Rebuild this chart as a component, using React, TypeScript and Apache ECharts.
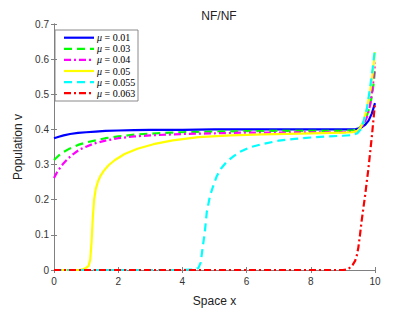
import React, { useEffect, useRef } from 'react';
import * as echarts from 'echarts';

const muValues = ['0.01', '0.03', '0.04', '0.05', '0.055', '0.063'];
const seriesNames = muValues.map((m) => 'μ = ' + m);
const seriesColors = ['#0000ff', '#00ff00', '#ff00ff', '#ffff00', '#00ffff', '#ff0000'];

const blueX = [0, 0.15, 0.3, 0.5, 0.75, 1, 1.3, 1.6, 2, 2.5, 3, 4, 5, 6, 8, 9.2, 9.4, 9.5, 9.6, 9.7, 9.8, 9.9, 10];
const blueY = [0.375, 0.379, 0.383, 0.387, 0.39, 0.392, 0.394, 0.396, 0.397, 0.398, 0.399, 0.399, 0.4, 0.4, 0.4, 0.4, 0.401, 0.403, 0.407, 0.414, 0.425, 0.445, 0.475];

const greenX = [0, 0.15, 0.3, 0.5, 0.75, 1, 1.3, 1.6, 2, 2.6, 3.2, 4, 5, 6, 7, 8, 9, 9.3, 9.45, 9.55, 9.65, 9.75, 9.85, 9.93, 10];
const greenY = [0.313, 0.326, 0.336, 0.346, 0.356, 0.363, 0.369, 0.375, 0.38, 0.386, 0.389, 0.392, 0.394, 0.395, 0.396, 0.396, 0.396, 0.397, 0.4, 0.407, 0.42, 0.44, 0.47, 0.51, 0.565];

const magentaX = [0, 0.1, 0.2, 0.3, 0.45, 0.6, 0.8, 1, 1.25, 1.6, 2, 2.5, 3, 4, 5, 6, 7, 8, 9, 9.3, 9.45, 9.55, 9.65, 9.75, 9.85, 9.93, 10];
const magentaY = [0.262, 0.279, 0.292, 0.304, 0.318, 0.33, 0.343, 0.351, 0.36, 0.368, 0.375, 0.38, 0.383, 0.387, 0.389, 0.391, 0.391, 0.392, 0.392, 0.393, 0.396, 0.403, 0.415, 0.435, 0.47, 0.52, 0.59];

const yellowX = [0, 0.8, 0.9, 1.0, 1.08, 1.13, 1.17, 1.21, 1.25, 1.3, 1.37, 1.45, 1.55, 1.7, 1.9, 2.2, 2.6, 3.1, 3.7, 4.5, 5.5, 6.5, 8, 9, 9.3, 9.45, 9.55, 9.65, 9.75, 9.85, 9.93, 10];
const yellowY = [0, 0, 0.002, 0.006, 0.012, 0.03, 0.08, 0.15, 0.2, 0.23, 0.252, 0.268, 0.282, 0.298, 0.313, 0.33, 0.345, 0.358, 0.369, 0.378, 0.383, 0.386, 0.389, 0.391, 0.392, 0.396, 0.405, 0.425, 0.46, 0.51, 0.56, 0.62];

const cyanX = [0, 4.0, 4.4, 4.5, 4.57, 4.63, 4.7, 4.76, 4.86, 4.96, 5.07, 5.2, 5.38, 5.6, 5.79, 6.1, 6.52, 7, 7.5, 8, 8.5, 9, 9.3, 9.45, 9.55, 9.65, 9.75, 9.85, 9.93, 10];
const cyanY = [0, 0, 0.002, 0.006, 0.021, 0.063, 0.109, 0.165, 0.211, 0.239, 0.267, 0.288, 0.308, 0.324, 0.336, 0.349, 0.359, 0.368, 0.373, 0.377, 0.38, 0.382, 0.384, 0.389, 0.4, 0.425, 0.46, 0.52, 0.575, 0.63];

const redX = [0, 9.0, 9.15, 9.22, 9.3, 9.38, 9.43, 9.48, 9.53, 9.58, 9.69, 9.79, 9.9, 10];
const redY = [0, 0, 0.002, 0.007, 0.014, 0.026, 0.04, 0.063, 0.098, 0.137, 0.211, 0.285, 0.378, 0.475];

const xList = [blueX, greenX, magentaX, yellowX, cyanX, redX];
const yList = [blueY, greenY, magentaY, yellowY, cyanY, redY];
const dashTypes: any[] = ['solid', [8, 5], [7, 3, 2, 3], 'solid', [8, 5], [7, 3, 2, 3]];
const legendDash: any[] = [null, [8, 5], [7, 3, 2, 3], null, [8, 5], [7, 3, 2, 3]];

const xTicks = [0, 2, 4, 6, 8, 10];
const yTicks = [0, 0.1, 0.2, 0.3, 0.4, 0.5, 0.6, 0.7];

const axisColor = '#808080';
const labelColor = '#333333';
const sans = 'Liberation Sans, Arial, sans-serif';
const serif = 'Liberation Serif, serif';

export default function App() {
  const ref = useRef<HTMLDivElement>(null);
  useEffect(() => {
    if (!ref.current) return;
    const chart = echarts.init(ref.current, null, { renderer: 'svg' });
    const series = seriesNames.map((name, i) => ({
      name,
      type: 'line',
      xAxisIndex: 0,
      yAxisIndex: 0,
      data: xList[i].map((x, j) => [x, yList[i][j]]),
      symbol: 'none',
      smooth: false,
      lineStyle: { color: seriesColors[i], width: 2.2, type: dashTypes[i] },
      itemStyle: { color: seriesColors[i] },
    }));

    const lgLeft = 55;
    const lgTop = 30;
    const rowH = 11.1;
    const legendChildren: any[] = [
      {
        type: 'rect',
        shape: { x: lgLeft, y: lgTop, width: 83, height: 71 },
        style: { fill: '#ffffff', stroke: '#8a8a8a', lineWidth: 1 },
      },
    ];
    seriesNames.forEach((name, i) => {
      const cy = lgTop + 7.7 + i * rowH;
      legendChildren.push({
        type: 'line',
        shape: { x1: lgLeft + 9, y1: cy, x2: lgLeft + 39, y2: cy },
        style: { stroke: seriesColors[i], lineWidth: 2.2, lineDash: legendDash[i] },
      });
      legendChildren.push({
        type: 'text',
        x: lgLeft + 42,
        y: cy,
        style: {
          text: '{i|μ} = ' + muValues[i],
          fill: '#000',
          fontFamily: serif,
          fontSize: 10,
          verticalAlign: 'middle',
          rich: { i: { fontStyle: 'italic', fontFamily: serif, fontSize: 10, fill: '#000' } },
        },
      });
    });

    const baseAxis = {
      axisLine: { show: true, lineStyle: { color: axisColor, width: 1 } },
      axisTick: { show: true, inside: true, length: 3, lineStyle: { color: axisColor } },
      splitLine: { show: false },
    };
    chart.setOption({
      animation: false,
      backgroundColor: '#ffffff',
      title: {
        text: 'NF/NF',
        left: 214,
        top: 5,
        textAlign: 'center',
        textStyle: { fontFamily: sans, fontSize: 12, fontWeight: 'normal', color: '#222' },
      },
      grid: { left: 54, right: 40, top: 24, bottom: 36 },
      graphic: [{ type: 'group', z: 100, children: legendChildren }],
      xAxis: [
        {
          ...baseAxis,
          type: 'value',
          min: 0,
          max: 10,
          interval: 2,
          position: 'bottom',
          name: 'Space x',
          nameLocation: 'middle',
          nameGap: 25,
          nameTextStyle: { fontFamily: sans, fontSize: 12, color: '#222' },
          axisLabel: {
            fontFamily: sans,
            fontSize: 10,
            color: labelColor,
            margin: 6,
            formatter: (v: number) => (xTicks.includes(v) ? String(v) : ''),
          },
        },
        {
          ...baseAxis,
          type: 'value',
          min: 0,
          max: 10,
          interval: 2,
          position: 'top',
          axisLabel: { show: false },
        },
      ],
      yAxis: [
        {
          ...baseAxis,
          type: 'value',
          min: 0,
          max: 0.7,
          interval: 0.1,
          position: 'left',
          name: 'Population v',
          nameLocation: 'middle',
          nameGap: 29,
          nameRotate: 90,
          nameTextStyle: { fontFamily: sans, fontSize: 12, color: '#222' },
          axisLabel: {
            fontFamily: sans,
            fontSize: 10,
            color: labelColor,
            margin: 5,
            formatter: (v: number) => {
              const t = yTicks.find((k) => Math.abs(k - v) < 1e-9);
              return t === undefined ? '' : t === 0 ? '0' : t.toFixed(1);
            },
          },
        },
        {
          ...baseAxis,
          type: 'value',
          min: 0,
          max: 0.7,
          interval: 0.1,
          position: 'right',
          axisLabel: { show: false },
        },
      ],
      series,
    });
    return () => chart.dispose();
  }, []);
  return <div ref={ref} style={{ position: 'fixed', left: 0, top: 0, width: 415, height: 312 }} />;
}
